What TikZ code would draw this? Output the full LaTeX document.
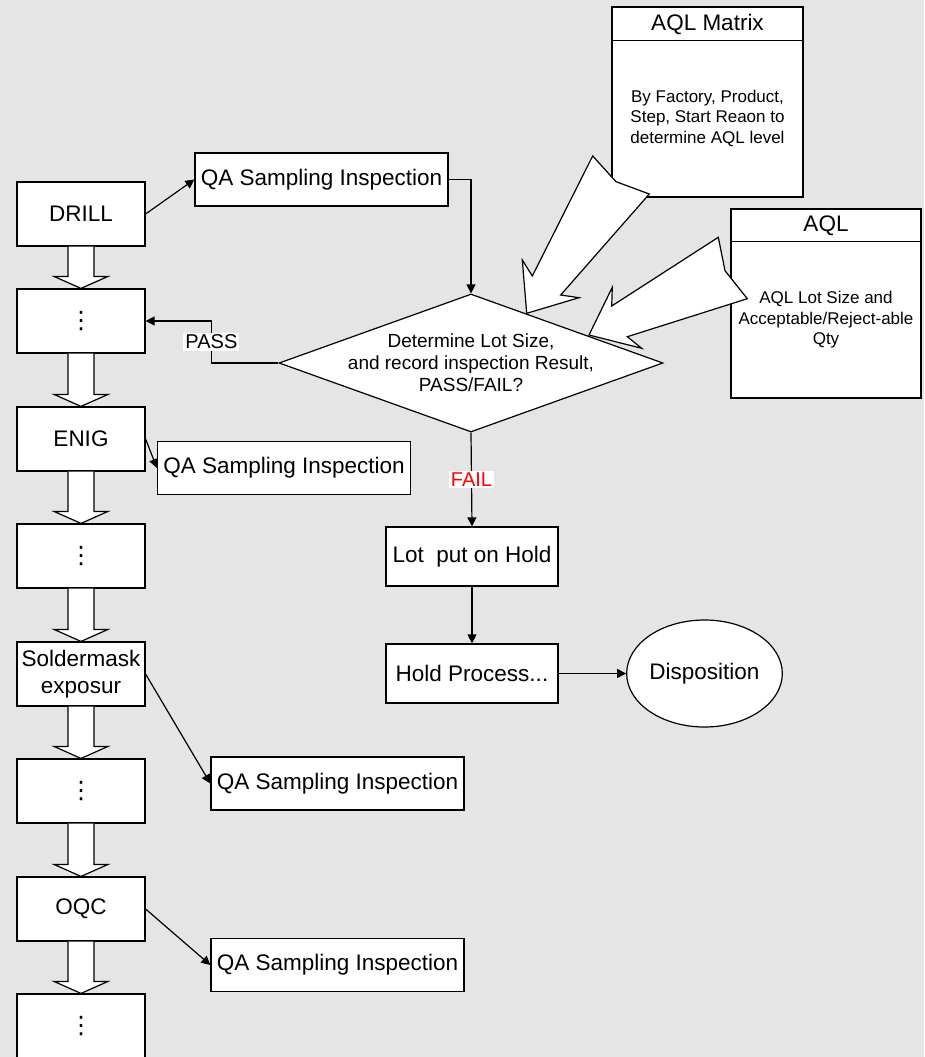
\documentclass[tikz,border=0pt]{standalone}
\usepackage{fontspec}
\setmainfont{Liberation Sans}
\newfontfamily\symfont{DejaVu Sans}
\usetikzlibrary{calc,arrows.meta,shapes.geometric}
\definecolor{bggray}{RGB}{229,229,229}
\def\blockdown(#1)(#2){\draw[fill=white] ($(#1.south)+(-13,0)$) -- ($(#2.north)+(-13,-12)$) -- ($(#2.north)+(-27,-12)$) -- (#2.north) -- ($(#2.north)+(27,-12)$) -- ($(#2.north)+(13,-12)$) -- ($(#1.south)+(13,0)$);}
\tikzset{
	txt/.style={font=\fontsize{22.5}{27}\selectfont},
	stepbox/.style={txt, draw, fill=white, minimum width=128pt, minimum height=64pt, inner sep=0pt, align=center},
	qabox/.style={txt, draw, fill=white, minimum width=253pt, minimum height=53pt, inner sep=0pt},
	holdbox/.style={txt, draw, fill=white, minimum width=172pt, minimum height=59pt, inner sep=0pt},
	tablebox/.style={draw, fill=white, minimum width=191pt, minimum height=190pt, inner sep=0pt},
	smalltxt/.style={font=\fontsize{17}{20.5}\selectfont, align=center},
	flow/.style={-{Triangle[length=9pt,width=9pt]}},
	dotsym/.style={font=\fontsize{24}{24}\selectfont\symfont}
}

\begin{document}
\begin{tikzpicture}[x=1pt, y=-1pt, line width=1.2pt]
		%%%%% START %%%%%
		
		\fill[bggray] (0, 0) rectangle (924, 1057);
		\useasboundingbox (0, 0) rectangle (924, 1057);
		
		% process steps
		\node[stepbox] (drill) at (81, 214) {DRILL};
		\node[stepbox, dotsym] (dots1) at (81, 321) {⋮};
		\node[stepbox] (enig) at (81, 439) {ENIG};
		\node[stepbox, dotsym] (dots2) at (81, 556) {⋮};
		\node[stepbox] (solder) at (81, 674) {Soldermask\\exposur};
		\node[stepbox, dotsym] (dots3) at (81, 791) {⋮};
		\node[stepbox] (oqc) at (81, 909) {OQC};
		\node[stepbox, dotsym] (dots4) at (81, 1026) {⋮};
		
		\foreach \a/\b in {drill/dots1, dots1/enig, enig/dots2, dots2/solder, solder/dots3, dots3/oqc, oqc/dots4}
			\blockdown(\a)(\b);
		
		% sampling
		\node[qabox] (qa1) at (321.5, 179.5) {QA Sampling Inspection};
		\node[qabox] (qa2) at (284, 468) {QA Sampling Inspection};
		\node[qabox] (qa3) at (337.5, 783.5) {QA Sampling Inspection};
		\node[qabox] (qa4) at (337.5, 965) {QA Sampling Inspection};
		
		\draw[flow] (drill.east) -- (qa1.west);
		\draw[flow] (enig.east) -- (qa2.west);
		\draw[flow] (solder.east) -- (qa3.west);
		\draw[flow] (oqc.east) -- (qa4.west);
		
		% decision
		\node[diamond, draw, fill=white, minimum width=384pt, minimum height=138pt, inner sep=0pt] (dec) at (471, 363) {};
		\node[font=\fontsize{19}{22}\selectfont, align=center] (dectxt) at (dec.center) {Determine Lot Size,\\and record inspection Result,\\PASS/FAIL?};
		
		\draw[flow] (qa1.east) -| (dec.north);
		\draw[flow] (dec.west) -- ++(-67, 0) |- (dots1.east) node[pos=0.25, fill=white, inner sep=2pt, font=\fontsize{20}{20}\selectfont] (pass) {PASS};
		
		\node[holdbox] (lot) at (472, 556.5) {Lot\ \ put on Hold};
		\node[holdbox] (hold) at (472, 673.5) {Hold Process...};
		\node[txt, ellipse, draw, fill=white, minimum width=151pt, minimum height=107pt, inner sep=0pt] (disp) at (704.5, 673.5) {Disposition};
		
		\draw[flow] (dec.south) -- (lot.north) node[midway, fill=white, text=red, inner sep=2pt, font=\fontsize{20}{20}\selectfont] (fail) {FAIL};
		\draw[flow] (lot.south) -- (hold.north);
		\draw[flow] (hold.east) -- (disp.west);
		
		% AQL tables
		\node[tablebox] (aqlm) at (707.5, 102) {};
		\draw ($(aqlm.north west)+(0, 34)$) -- ($(aqlm.north east)+(0, 34)$);
		\node[txt] (aqlmtitle) at (707.5, 24) {AQL Matrix};
		\node[smalltxt] (aqlmtxt) at (707.5, 118) {By Factory, Product,\\Step, Start Reaon to\\determine AQL level};
		
		\node[tablebox, minimum width=190pt, minimum height=189pt] (aql) at (826, 303.5) {};
		\draw ($(aql.north west)+(0, 33)$) -- ($(aql.north east)+(0, 33)$);
		\node[txt] (aqltitle) at (826, 225.5) {AQL};
		\node[smalltxt] (aqltxt) at (826, 320) {AQL Lot Size and\\Acceptable/Reject-able\\Qty};
		
		% big arrows into the decision
		\draw[fill=white] (592.7, 156) -- (532.3, 276) -- (522.3, 260) -- (526.7, 313.3) -- (579, 297.7) -- (560.7, 295) -- (649.3, 194) -- (616, 181.7) -- cycle;
		\draw[fill=white] (718.3, 237.3) -- (611.7, 306) -- (612.3, 287.3) -- (589, 335) -- (641.7, 348.3) -- (627.3, 336.7) -- (747.3, 298.7) -- (725, 270.7) -- cycle;
		
		%%%%% END %%%%%
	\end{tikzpicture}
\end{document}
